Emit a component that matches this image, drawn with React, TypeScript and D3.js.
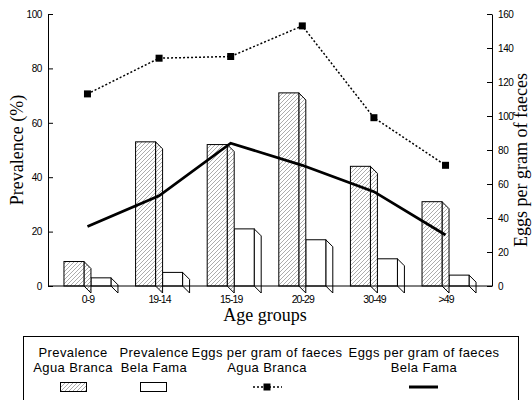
import React, { useEffect, useRef } from "react";
import * as d3 from "d3";

const ageGroups = ["0-9", "19-14", "15-19", "20-29", "30-49", ">49"];
const prevAguaBranca = [9, 53, 52, 71, 44, 31];
const prevBelaFama = [3, 5, 21, 17, 10, 4];
const epgAguaBranca = [113, 134, 135, 153, 99, 71];
const epgBelaFama = [35, 53, 84, 71, 55.5, 30];
const prevTicks = [0, 20, 40, 60, 80, 100];
const epgTicks = [0, 20, 40, 60, 80, 100, 120, 140, 160];

const SANS = "'Liberation Sans', Arial, sans-serif";
const SERIF = "'Liberation Serif', 'Times New Roman', serif";

const W = 532, H = 400;
const left = 48, right = 492, top = 14, bottom = 286;
const barW = 20, depth = 7;

export default function App() {
  const ref = useRef<SVGSVGElement>(null);

  useEffect(() => {
    const svg = d3.select(ref.current);
    svg.selectAll("*").remove();

    const defs = svg.append("defs");
    const pat = defs.append("pattern")
      .attr("id", "hatch")
      .attr("patternUnits", "userSpaceOnUse")
      .attr("width", 4)
      .attr("height", 4);
    pat.append("rect").attr("width", 4).attr("height", 4).attr("fill", "white");
    pat.append("path")
      .attr("d", "M-1,1 l2,-2 M0,4 l4,-4 M3,5 l2,-2")
      .attr("stroke", "#888")
      .attr("stroke-width", 0.7);

    const x = d3.scaleBand<string>().domain(ageGroups).range([left, right]).paddingOuter(0.1).paddingInner(0);
    const yL = d3.scaleLinear().domain([0, 100]).range([bottom, top]);
    const yR = d3.scaleLinear().domain([0, 160]).range([bottom, top]);
    const cx = (d: string) => (x(d) as number) + x.bandwidth() / 2;

    // 3d bars: front + side face
    const drawBars = (vals: number[], x0: (d: string) => number, fill: string) => {
      const g = svg.append("g");
      ageGroups.forEach((a, i) => {
        const xs = x0(a);
        const yt = yL(vals[i]);
        const y0 = yL(0);
        g.append("path")
          .attr("d", `M${xs + barW},${yt} L${xs + barW + depth},${yt + depth} L${xs + barW + depth},${y0 + depth} L${xs + barW},${y0} Z`)
          .attr("fill", fill).attr("stroke", "black").attr("stroke-width", 1);
        g.append("rect")
          .attr("x", xs).attr("y", yt)
          .attr("width", barW).attr("height", y0 - yt)
          .attr("fill", fill).attr("stroke", "black").attr("stroke-width", 1);
      });
    };
    drawBars(prevBelaFama, (d) => cx(d), "white");
    drawBars(prevAguaBranca, (d) => cx(d) - barW - depth, "url(#hatch)");

    // axes
    const gl = svg.append("g").attr("transform", `translate(${left},0)`);
    gl.call(d3.axisLeft(yL).tickValues(d3.range(0, 101, 10)).tickSize(-3).tickSizeOuter(0).tickFormat(() => ""));
    gl.call(d3.axisLeft(yL).tickValues(prevTicks).tickSize(-5).tickSizeOuter(0).tickPadding(6));
    const gr = svg.append("g").attr("transform", `translate(${right},0)`);
    gr.call(d3.axisRight(yR).tickValues(d3.range(0, 161, 10)).tickSize(-3).tickSizeOuter(0).tickFormat(() => ""));
    gr.call(d3.axisRight(yR).tickValues(epgTicks).tickSize(-5).tickSizeOuter(0).tickPadding(6));
    svg.selectAll(".tick text").attr("font-family", SANS).attr("font-size", 10).attr("letter-spacing", -0.4).attr("fill", "black");
    svg.selectAll(".domain, .tick line").attr("stroke", "black");

    svg.append("line")
      .attr("x1", left).attr("x2", right).attr("y1", bottom).attr("y2", bottom)
      .attr("stroke", "black");

    svg.append("g").selectAll("text").data(ageGroups).join("text")
      .attr("x", (d) => cx(d) - 3)
      .attr("y", bottom + 17)
      .attr("text-anchor", "middle")
      .attr("font-family", SANS).attr("font-size", 10.5).attr("letter-spacing", -0.9)
      .text((d) => d);

    // lines
    const lx = (d: string) => cx(d) - 3.5;
    const dashLine = d3.line<number>().x((_, i) => lx(ageGroups[i])).y((v) => yR(v));
    svg.append("path").datum(epgAguaBranca)
      .attr("d", dashLine).attr("fill", "none")
      .attr("stroke", "black").attr("stroke-width", 1.5).attr("stroke-dasharray", "2,2");
    svg.append("g").selectAll("rect").data(epgAguaBranca).join("rect")
      .attr("x", (_, i) => lx(ageGroups[i]) - 3.5)
      .attr("y", (v) => yR(v) - 3.5)
      .attr("width", 7).attr("height", 7).attr("fill", "black");
    svg.append("path").datum(epgBelaFama)
      .attr("d", dashLine).attr("fill", "none")
      .attr("stroke", "black").attr("stroke-width", 2.8);

    // titles
    svg.append("text")
      .attr("transform", `translate(23,${(top + bottom) / 2}) rotate(-90)`)
      .attr("text-anchor", "middle").attr("font-family", SERIF).attr("font-size", 18)
      .text("Prevalence (%)");
    svg.append("text")
      .attr("transform", `translate(527,160) rotate(-90)`)
      .attr("text-anchor", "middle").attr("font-family", SERIF).attr("font-size", 18)
      .text("Eggs per gram of faeces");
    svg.append("text")
      .attr("x", 265).attr("y", 321)
      .attr("text-anchor", "middle").attr("font-family", SERIF).attr("font-size", 18)
      .text("Age groups");

    // legend
    const lg = svg.append("g");
    lg.append("rect").attr("x", 23.5).attr("y", 336.5).attr("width", 495).attr("height", 80)
      .attr("fill", "none").attr("stroke", "black");
    const items = [
      { c: 73, l1: "Prevalence", l2: "Agua Branca" },
      { c: 154, l1: "Prevalence", l2: "Bela Fama" },
      { c: 267, l1: "Eggs per gram of faeces", l2: "Agua Branca" },
      { c: 424, l1: "Eggs per gram of faeces", l2: "Bela Fama" },
    ];
    items.forEach((it) => {
      lg.append("text").attr("x", it.c).attr("y", 357).attr("text-anchor", "middle")
        .attr("font-family", SANS).attr("font-size", 13).attr("letter-spacing", 0.4).text(it.l1);
      lg.append("text").attr("x", it.c).attr("y", 372).attr("text-anchor", "middle")
        .attr("font-family", SANS).attr("font-size", 13).attr("letter-spacing", 0.4).text(it.l2);
    });
    lg.append("rect").attr("x", 60.5).attr("y", 382.5).attr("width", 26).attr("height", 9)
      .attr("fill", "url(#hatch)").attr("stroke", "black");
    lg.append("rect").attr("x", 140.5).attr("y", 382.5).attr("width", 26).attr("height", 9)
      .attr("fill", "white").attr("stroke", "black");
    lg.append("line").attr("x1", 253).attr("x2", 282).attr("y1", 387).attr("y2", 387)
      .attr("stroke", "black").attr("stroke-width", 1.5).attr("stroke-dasharray", "2,2");
    lg.append("rect").attr("x", 263.5).attr("y", 383.5).attr("width", 7).attr("height", 7).attr("fill", "black");
    lg.append("line").attr("x1", 409).attr("x2", 438).attr("y1", 387).attr("y2", 387)
      .attr("stroke", "black").attr("stroke-width", 3);
  }, []);

  return (
    <div style={{ position: "fixed", left: 0, top: 0, background: "white" }}>
      <svg ref={ref} width={W} height={H} style={{ display: "block" }} />
    </div>
  );
}
